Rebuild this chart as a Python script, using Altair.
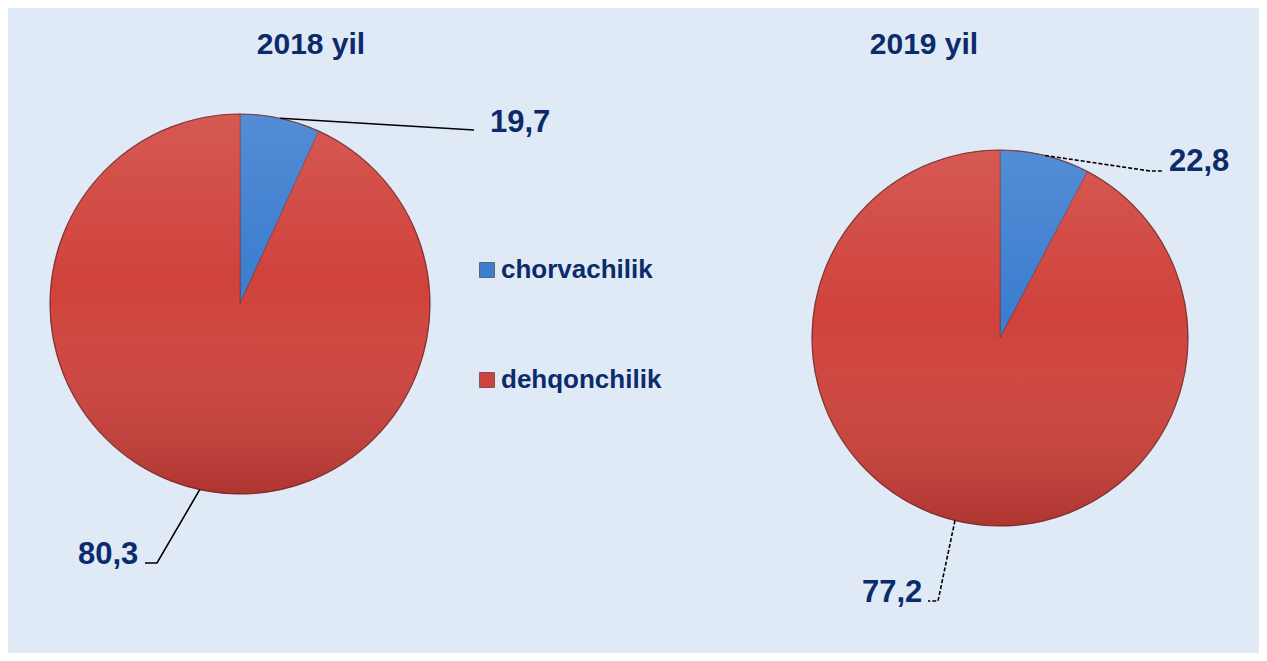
import math
import altair as alt
import pandas as pd

# ---- data ----
categories = ["chorvachilik", "dehqonchilik"]
years = ["2018 yil", "2019 yil"]
# slice sizes as drawn in the picture (percent of the circle)
shares_2018 = [6.8, 93.2]
shares_2019 = [7.7, 92.3]
# value labels printed next to the slices
labels_2018 = ["19,7", "80,3"]
labels_2019 = ["22,8", "77,2"]
colors = ["#3b7dcf", "#d0423c"]

# ---- layout (chart pixel coordinates) ----
W, H = 1251, 645
pie_center = {"2018 yil": (232, 296), "2019 yil": (992, 330)}
pie_radius = {"2018 yil": 190, "2019 yil": 188}
title_pos = {"2018 yil": (303, 46), "2019 yil": (916, 46)}
# label anchor (left, baseline) and leader-line elbow points
label_pos = {
    ("2018 yil", 0): ((482, 124), [(466, 122)]),
    ("2018 yil", 1): ((70, 556), [(149, 555), (137, 555)]),
    ("2019 yil", 0): ((1161, 163), [(1142, 163), (1155, 163)]),
    ("2019 yil", 1): ((854, 594), [(930, 593), (920, 593)]),
}
NAVY = "#0c2b6b"
FONT = "Liberation Sans"

shares = {"2018 yil": shares_2018, "2019 yil": shares_2019}
labels = {"2018 yil": labels_2018, "2019 yil": labels_2019}

pie_rows, text_rows, line_rows = [], [], []
for yr in years:
    total = sum(shares[yr])
    cum = 0.0
    for i, (cat, s) in enumerate(zip(categories, shares[yr])):
        pie_rows.append({"year": yr, "category": cat, "share": s, "ord": i})
        mid = (cum + s / 2) / total * 2 * math.pi
        cum += s
        cx, cy = pie_center[yr]
        r = pie_radius[yr]
        ax, ay = cx + r * math.sin(mid), cy - r * math.cos(mid)
        (lx, ly), elbows = label_pos[(yr, i)]
        text_rows.append({"year": yr, "x": lx, "y": ly, "text": labels[yr][i]})
        pts = [(ax, ay)] + elbows
        for k, (px, py) in enumerate(pts):
            line_rows.append({"year": yr, "id": f"{yr}-{i}", "k": k, "x": px, "y": py})

pies = pd.DataFrame(pie_rows)
texts = pd.DataFrame(text_rows)
lines = pd.DataFrame(line_rows)
titles = pd.DataFrame([{"x": title_pos[y][0], "y": title_pos[y][1], "text": y} for y in years])

xs = alt.Scale(domain=[0, W], range=[0, W])
ys = alt.Scale(domain=[0, H], range=[0, H])
X = lambda f: alt.X(f, scale=xs, axis=None)
Y = lambda f: alt.Y(f, scale=ys, axis=None)

color_scale = alt.Scale(domain=categories, range=colors)

layers = []
for j, yr in enumerate(years):
    cx, cy = pie_center[yr]
    legend = None
    if j == 0:
        legend = alt.Legend(
            title=None, orient="none", legendX=466, legendY=249,
            symbolType="square", symbolSize=225, symbolStrokeWidth=0.6,
            symbolStrokeColor="#333333",
            labelFont=FONT, labelFontWeight="bold", labelFontSize=26,
            labelColor=NAVY, rowPadding=84, labelOffset=1, labelLimit=400,
        )
    pie = alt.Chart(pies).transform_filter(alt.datum.year == yr).mark_arc(
        radius=pie_radius[yr], stroke="#7a2724", strokeWidth=0.8, strokeOpacity=0.7
    ).encode(
        x=alt.value(cx), y=alt.value(cy),
        theta=alt.Theta("share:Q", stack=True),
        order=alt.Order("ord:Q"),
        color=alt.Color("category:N", scale=color_scale, legend=legend),
    )
    shade = alt.Chart(pd.DataFrame({"year": [yr]})).mark_arc(
        radius=pie_radius[yr], theta=0, theta2=2 * math.pi,
        fill=alt.Gradient(
            gradient="linear", x1=0, y1=0, x2=0, y2=1,
            stops=[
                alt.GradientStop(offset=0, color="rgba(255,255,255,0.12)"),
                alt.GradientStop(offset=0.45, color="rgba(255,255,255,0)"),
                alt.GradientStop(offset=1, color="rgba(40,0,0,0.20)"),
            ],
        ),
        stroke="#6b1f1d", strokeWidth=1.2, strokeOpacity=0.6,
    ).encode(x=alt.value(cx), y=alt.value(cy))
    leader = alt.Chart(lines).transform_filter(alt.datum.year == yr).mark_line(
        color="black", strokeWidth=1.6,
        **({"strokeDash": [4, 2]} if j == 1 else {}),
    ).encode(x=X("x:Q"), y=Y("y:Q"), detail="id:N", order="k:Q")
    layers += [pie, shade, leader]

label_layer = alt.Chart(texts).mark_text(
    font=FONT, fontWeight="bold", fontSize=31, color=NAVY,
    align="left", baseline="alphabetic",
).encode(x=X("x:Q"), y=Y("y:Q"), text="text:N")

title_layer = alt.Chart(titles).mark_text(
    font=FONT, fontWeight="bold", fontSize=30, color=NAVY,
    align="center", baseline="alphabetic",
).encode(x=X("x:Q"), y=Y("y:Q"), text="text:N")

chart = alt.layer(*layers, label_layer, title_layer).properties(
    width=W, height=H, background="#dfeaf6",
    autosize=alt.AutoSizeParams(type="none"), padding=0,
).configure_view(stroke=None)

chart.save("out.html", embed_options={"renderer": "svg", "actions": False})
